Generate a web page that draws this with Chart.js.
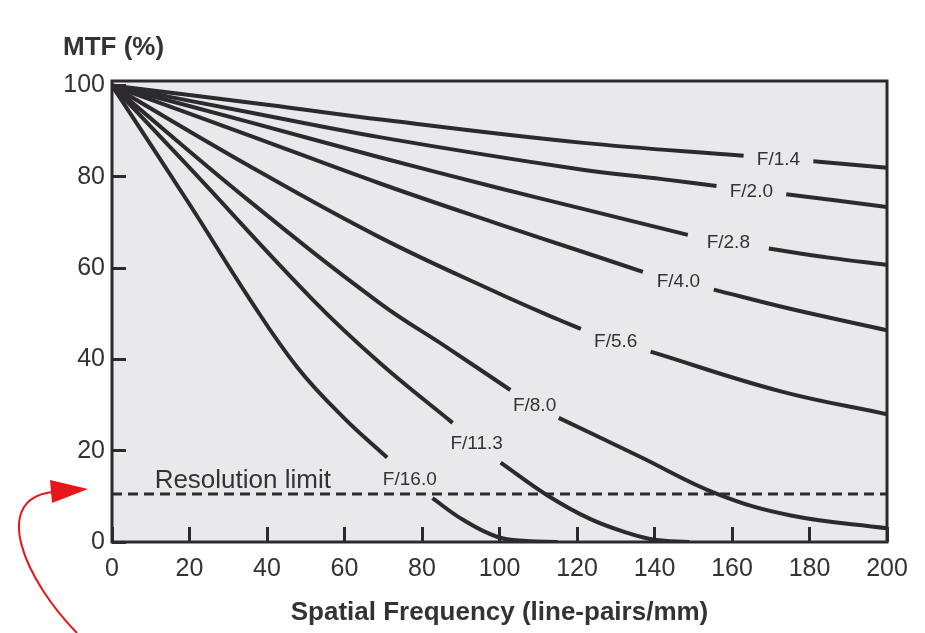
<!DOCTYPE html>
<html><head><meta charset="utf-8">
<script src="https://cdn.jsdelivr.net/npm/chart.js@4.4.1/dist/chart.umd.min.js"></script>
<style>html,body{margin:0;padding:0;background:#fff;}canvas{display:block;}</style>
</head><body>
<canvas id="c" width="925" height="633"></canvas>
<script>
// ---- data ----
const fLabels = ['F/1.4', 'F/2.0', 'F/2.8', 'F/4.0', 'F/5.6', 'F/8.0', 'F/11.3', 'F/16.0'];
const xTicks = [0, 20, 40, 60, 80, 100, 120, 140, 160, 180, 200];
const yTicks = [0, 20, 40, 60, 80, 100];

// null = break in the curve where its label sits
const xF14 = [0, 40, 70, 121, 163, 172, 181, 200];
const yF14 = [100, 95.8, 92.5, 87.5, 84.6, null, 83.4, 82.0];
const xF20 = [0, 35, 69, 121, 142, 156, 165, 174, 200];
const yF20 = [100, 94.2, 88.7, 81.6, 79.5, 78.0, null, 76.2, 73.4];
const xF28 = [0, 35, 69, 100, 121, 148.6, 159, 169.5, 185, 200];
const yF28 = [100, 92.1, 84.3, 77.5, 73.1, 67.3, null, 64.3, 62.3, 60.7];
const xF40 = [0, 35, 69, 100, 121, 137, 146, 155.3, 175, 200];
const yF40 = [100, 89.2, 78.6, 69.6, 63.7, 59.2, null, 55.3, 51.1, 46.4];
const xF56 = [0, 35, 69, 100, 115, 121, 130, 139, 172.6, 200];
const yF56 = [100, 82.6, 66.8, 54.4, 48.8, 46.7, null, 41.7, 33.0, 28.0];
const xF80 = [0, 35, 69, 86.5, 102.8, 109, 115.3, 136, 156.3, 175.2, 200];
const yF80 = [100, 75, 52.4, 42.6, 33.3, null, 27.2, 18.8, 10.5, 5.8, 3.0];
const xF113 = [0, 20, 51.9, 69.3, 87.9, 94, 100.3, 112.4, 123.5, 133, 140, 149];
const yF113 = [100, 82, 53.0, 39.1, 26.1, null, 17.4, 10.2, 5.0, 2.0, 0.5, 0];
const xF160 = [0, 20, 35.7, 47.8, 59.7, 71, 77, 82.7, 90.7, 99.5, 107, 115];
const yF160 = [100, 74, 53.0, 38.3, 27.3, 18.5, null, 9.6, 4.8, 1.1, 0.2, 0];

const resolutionX = [0, 200];
const resolutionY = [10.5, 10.5];
const resolutionText = 'Resolution limit';

// ---- build ----
const FONT = "'Liberation Sans', Arial, Helvetica, sans-serif";
const INK = '#2c2a2d';
const TEXT = '#333335';
const curveX = [xF14, xF20, xF28, xF40, xF56, xF80, xF113, xF160];
const curveY = [yF14, yF20, yF28, yF40, yF56, yF80, yF113, yF160];
const zip = (xs, ys) => xs.map((x, i) => ({x: x, y: ys[i]}));

const datasets = fLabels.map((lab, k) => ({
  label: lab,
  data: zip(curveX[k], curveY[k]),
  borderColor: INK,
  borderWidth: 4,
  pointRadius: 0,
  tension: 0.4,
  spanGaps: false,
  fill: false
}));
datasets.push({
  label: resolutionText,
  data: zip(resolutionX, resolutionY),
  borderColor: INK,
  borderWidth: 3,
  borderDash: [10, 6],
  pointRadius: 0,
  fill: false
});

const decor = {
  id: 'decor',
  beforeDraw(chart) {
    const {ctx, chartArea: a} = chart;
    ctx.save();
    ctx.fillStyle = '#e9e9ec';
    ctx.fillRect(a.left, a.top, a.right - a.left, a.bottom - a.top);
    ctx.restore();
  },
  afterDatasetsDraw(chart) {
    const {ctx, chartArea: a, scales: {x, y}} = chart;
    ctx.save();
    // frame
    ctx.strokeStyle = INK;
    ctx.lineWidth = 3;
    ctx.strokeRect(a.left, a.top, a.right - a.left, a.bottom - a.top);
    // curve labels centred in the gaps
    ctx.fillStyle = TEXT;
    ctx.font = '19px ' + FONT;
    ctx.textAlign = 'center';
    ctx.textBaseline = 'middle';
    fLabels.forEach((lab, k) => {
      const ys = curveY[k], xs = curveX[k];
      const g = ys.indexOf(null);
      const px = (x.getPixelForValue(xs[g - 1]) + x.getPixelForValue(xs[g + 1])) / 2;
      const py = (y.getPixelForValue(ys[g - 1]) + y.getPixelForValue(ys[g + 1])) / 2;
      ctx.fillText(lab, px, py + 1.5);
    });
    // resolution limit text
    ctx.font = '26px ' + FONT;
    ctx.textAlign = 'left';
    ctx.textBaseline = 'alphabetic';
    ctx.fillText(resolutionText, x.getPixelForValue(11), y.getPixelForValue(resolutionY[0]) - 6);
    ctx.restore();
  },
  afterDraw(chart) {
    const {ctx, scales: {y}} = chart;
    const ty = y.getPixelForValue(resolutionY[0]) - 5;
    ctx.save();
    ctx.strokeStyle = '#e8161b';
    ctx.fillStyle = '#e8161b';
    ctx.lineWidth = 2;
    ctx.beginPath();
    ctx.moveTo(77, 633);
    ctx.bezierCurveTo(25, 580, -10, 500, 52, ty + 3);
    ctx.stroke();
    ctx.beginPath();
    ctx.moveTo(50, ty - 9);
    ctx.lineTo(88, ty);
    ctx.lineTo(52, ty + 14);
    ctx.closePath();
    ctx.fill();
    ctx.restore();
  }
};

new Chart(document.getElementById('c'), {
  type: 'line',
  data: {datasets: datasets},
  plugins: [decor],
  options: {
    responsive: false,
    animation: false,
    devicePixelRatio: 1,
    layout: {padding: {left: 63, right: 38, top: 0, bottom: 0}},
    plugins: {
      legend: {display: false},
      tooltip: {enabled: false},
      title: {
        display: true, text: 'MTF (%)', align: 'start', color: TEXT,
        font: {family: FONT, size: 26, weight: 'bold', lineHeight: 1.2},
        padding: {top: 32, bottom: 17.8}
      }
    },
    scales: {
      x: {
        type: 'linear', min: 0, max: 200,
        afterBuildTicks: s => { s.ticks = xTicks.map(v => ({value: v})); },
        afterFit: s => { s.height = 91; s.paddingLeft = 0; s.paddingRight = 0; },
        border: {display: false},
        grid: {drawOnChartArea: false, drawTicks: true, tickLength: -15, tickWidth: 3, tickColor: INK},
        ticks: {color: TEXT, font: {family: FONT, size: 25}, padding: 27, maxRotation: 0, autoSkip: false},
        title: {
          display: true, text: 'Spatial Frequency (line-pairs/mm)', color: TEXT,
          font: {family: FONT, size: 26, weight: 'bold', lineHeight: 1.2},
          padding: {top: 0, bottom: 4.4}
        }
      },
      y: {
        type: 'linear', min: 0, max: 101,
        afterBuildTicks: s => { s.ticks = yTicks.map(v => ({value: v})); },
        afterFit: s => { s.width = 49; },
        border: {display: false},
        grid: {drawOnChartArea: false, drawTicks: true, tickLength: -14, tickWidth: 3, tickColor: INK},
        ticks: {color: TEXT, font: {family: FONT, size: 25}, padding: 21}
      }
    }
  }
});
</script>
</body></html>
